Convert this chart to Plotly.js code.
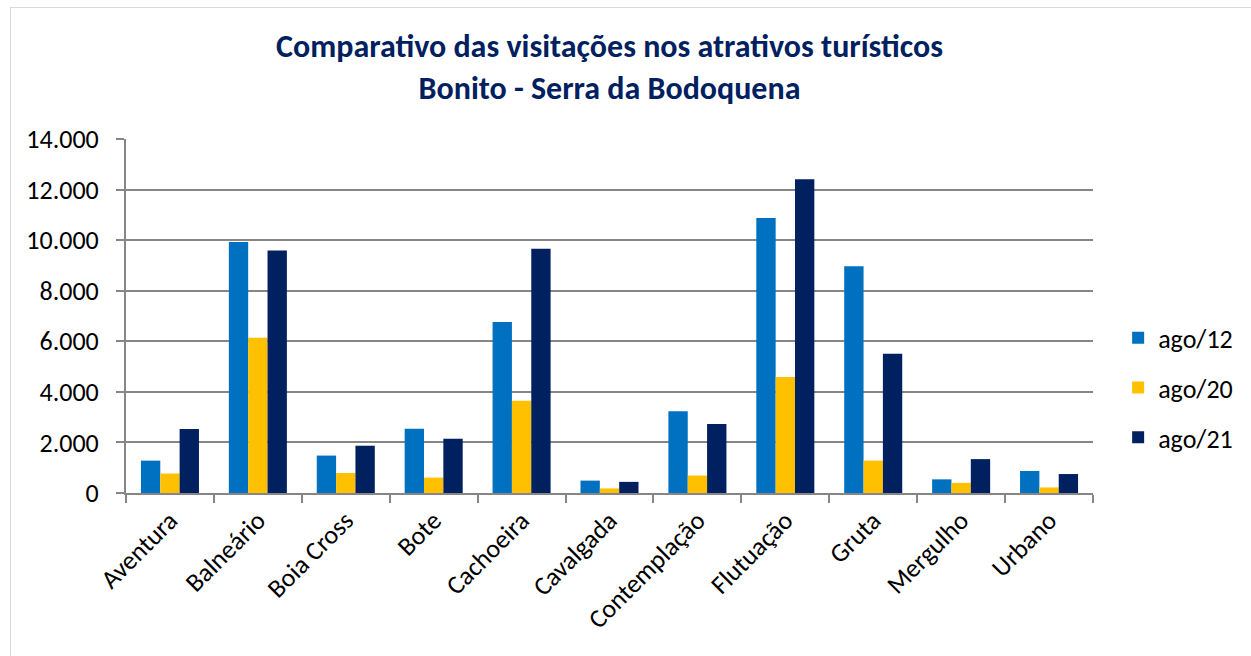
<!DOCTYPE html>
<html>
<head>
<meta charset="utf-8">
<script src="https://cdn.plot.ly/plotly-3.0.1.min.js"></script>
<style>
  html, body { margin: 0; padding: 0; background: #ffffff; }
  #frame { position: absolute; left: 10px; top: 7px; width: 1260px; height: 700px; border: 1.5px solid #d9d9d9; box-sizing: border-box; pointer-events: none; z-index: 5; }
  #chart { position: absolute; left: 0; top: 0; width: 1251px; height: 656px; }
</style>
</head>
<body>
<div id="chart"></div>
<div id="frame"></div>
<script>
const categories = ["Aventura", "Balneário", "Boia Cross", "Bote", "Cachoeira", "Cavalgada", "Contemplação", "Flutuação", "Gruta", "Mergulho", "Urbano"];
const ago12 = [1280, 9930, 1480, 2540, 6760, 490, 3230, 10880, 8970, 540, 870];
const ago20 = [770, 6140, 790, 610, 3650, 180, 690, 4590, 1280, 400, 220];
const ago21 = [2530, 9590, 1870, 2150, 9660, 440, 2730, 12410, 5510, 1340, 750];
const seriesNames = ["ago/12", "ago/20", "ago/21"];
const titleText = "Comparativo das visitações nos atrativos turísticos<br>Bonito - Serra da Bodoquena";

const FONT = "Carlito, Calibri, 'Open Sans', sans-serif";
const colors = ["#0070C0", "#FFC000", "#002060"];
const values = [ago12, ago20, ago21];

const traces = values.map((v, i) => ({
  type: "bar",
  name: seriesNames[i],
  x: categories,
  y: v,
  marker: { color: colors[i], line: { width: 0 } },
  legendgroup: "g" + i,
  hoverinfo: "x+y+name"
}));

const layout = {
  width: 1251,
  height: 656,
  margin: { l: 126, r: 158, t: 139, b: 163, pad: 0 },
  paper_bgcolor: "#ffffff",
  plot_bgcolor: "#ffffff",
  separators: ",.",
  barmode: "group",
  bargap: 0.34,
  bargroupgap: 0,
  font: { family: FONT, color: "#000000", size: 26 },
  title: {
    text: titleText,
    x: 0.5,
    xref: "paper",
    xanchor: "center",
    y: 0.913,
    yref: "container",
    yanchor: "middle",
    font: { family: FONT, size: 32, color: "#002060", weight: "bold" }
  },
  xaxis: {
    type: "category",
    tickangle: -45,
    showline: true,
    linecolor: "#868686",
    linewidth: 2,
    ticks: "outside",
    tickson: "boundaries",
    ticklen: 8,
    tickwidth: 2,
    tickcolor: "#868686",
    showgrid: false,
    tickfont: { family: FONT, size: 26, color: "#000000" },
    automargin: false
  },
  yaxis: {
    range: [0, 14000],
    dtick: 2000,
    tickformat: ",d",
    showline: true,
    linecolor: "#868686",
    linewidth: 2,
    ticks: "outside",
    ticklen: 8,
    tickwidth: 2,
    tickcolor: "#868686",
    ticklabelstandoff: 12,
    showgrid: true,
    gridcolor: "#868686",
    gridwidth: 2,
    zeroline: false,
    tickfont: { family: FONT, size: 26, color: "#000000" },
    automargin: false
  },
  legend: {
    x: 1.026,
    xanchor: "left",
    y: 0.297,
    yanchor: "middle",
    font: { family: FONT, size: 26, color: "#000000" },
    tracegroupgap: 13,
    itemwidth: 30,
    bgcolor: "rgba(0,0,0,0)"
  },
  showlegend: true
};

Plotly.newPlot("chart", traces, layout, { displayModeBar: false, staticPlot: true });
</script>
</body>
</html>
